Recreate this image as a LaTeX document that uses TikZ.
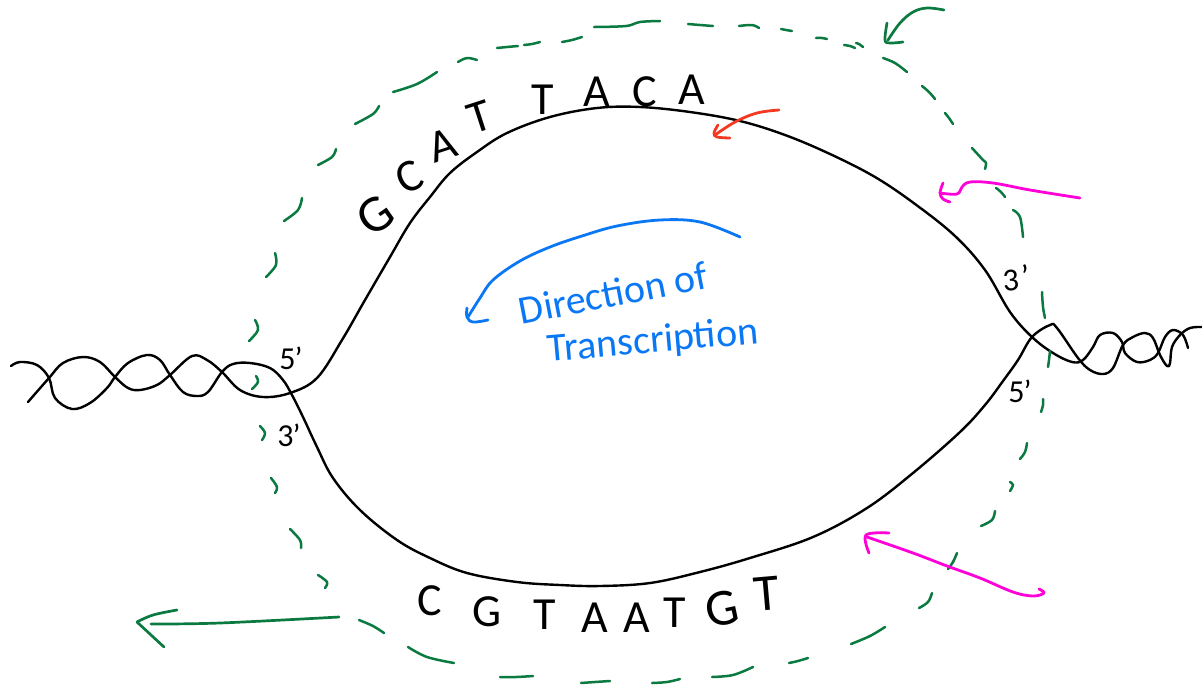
\documentclass[tikz,border=0pt]{standalone}
\usepackage{fontspec}
\setmainfont{Carlito}
\definecolor{dnagreen}{HTML}{0A7A40}
\definecolor{hotpink}{HTML}{FF00D8}
\definecolor{inkblue}{HTML}{0A78F5}
\definecolor{inkred}{HTML}{F23A22}
\tikzset{
  ink/.style={line width=2.4pt,line cap=round,line join=round},
  strand/.style={ink,black},
  bubble/.style={ink,dnagreen,line width=2.5pt},
  gpen/.style={ink,dnagreen,line width=2.7pt},
  ppen/.style={ink,hotpink,line width=2.8pt},
  bpen/.style={ink,inkblue,line width=2.8pt},
  rpen/.style={ink,inkred,line width=2.8pt},
  base/.style={inner sep=0pt,font=\fontsize{46}{46}\selectfont,text=black},
  bigbase/.style={inner sep=0pt,font=\fontsize{52}{52}\selectfont,text=black},
  endlabel/.style={inner sep=0pt,font=\fontsize{32}{32}\selectfont,text=black},
  note/.style={inner sep=0pt,font=\fontsize{40}{40}\selectfont,text=inkblue}
}
\newcommand{\sm}[2][]{\draw[#1] plot[smooth,tension=0.6] coordinates {#2};}
\newcommand{\gd}[1]{\draw[bubble] plot[smooth,tension=0.6] coordinates {#1};}
\begin{document}
\begin{tikzpicture}[x=1pt,y=-1pt]
\useasboundingbox (0,0) rectangle (1202,689);
% strands
\sm[strand]{(11,366)(20,362)(37,365)(49,378)(55,398)(72,409)(90,403)(107,388)(115,377)(128,363)(147,355)(160,360)(170,375)(183,392)(197,396)(208,392)(222,372)(233,364)(250,363)(270,368)(283,380)(292,395)(303,417)(317,447)(333,478)(360,510)(397,540)(430,558)(467,573)(517,582)(560,585)(600,586)(650,583)(700,572)(750,558)(813,537)(867,508)(913,473)(960,432)(985,405)(1003,381)(1018,360)(1032,337)(1050,325)(1057,328)(1078,358)(1090,370)(1103,374)(1113,368)(1123,345)(1133,337)(1145,333)(1153,338)(1160,355)(1167,366)(1170,363)(1172,347)(1180,335)(1190,328)(1202,327)}
\sm[strand]{(28,402)(49,378)(63,363)(83,357)(100,362)(115,377)(128,388)(140,390)(157,385)(170,375)(192,356)(207,360)(222,372)(240,390)(263,397)(290,393)(317,378)(342,340)(365,300)(390,257)(410,223)(430,197)(450,173)(477,152)(507,133)(550,117)(597,108)(640,107)(690,112)(740,121)(785,135)(830,154)(875,177)(915,204)(955,236)(985,270)(1010,312)(1032,337)(1053,353)(1072,362)(1083,360)(1093,347)(1100,335)(1113,333)(1122,342)(1125,353)(1137,362)(1150,360)(1158,353)(1165,337)(1173,330)(1183,335)(1188,348)}
% dashed green bubble, hand-drawn dash by dash
\gd{(255,320)(258,330)(249,341)}
\gd{(256,376)(258,382)(252,389)}
\gd{(260,426)(265,433)(262,440)}
\gd{(271,478)(277,487)(275,493)}
\gd{(290,529)(300,540)(301,548)}
\gd{(318,575)(327,582)(325,588)}
\gd{(359,620)(373,626)(384,633)}
\gd{(408,647)(427,657)(454,663)}
\gd{(500,677)(516,677)(533,676)}
\gd{(581,683)(595,682)(610,681)}
\gd{(652,683)(667,682)(680,679)}
\gd{(712,677)(733,675)(753,667)}
\gd{(789,663)(798,661)(808,658)}
\gd{(851,644)(870,636)(885,627)}
\gd{(919,608)(928,602)(932,593)}
\gd{(948,569)(953,562)(957,553)}
\gd{(981,526)(992,520)(995,511)}
\gd{(1010,491)(1013,485)(1010,482)}
\gd{(1020,459)(1025,452)(1027,443)}
\gd{(1041,412)(1043,405)(1043,399)}
\gd{(1048,367)(1049,360)(1050,351)}
\gd{(1045,318)(1043,307)(1042,292)}
\gd{(1023,237)(1020,217)(1013,210)}
\gd{(996,188)(1001,192)(1005,197)}
\gd{(972,148)(983,160)(986,163)(985,169)}
\gd{(945,113)(949,118)(953,124)}
\gd{(922,86)(929,92)(935,99)}
\gd{(883,58)(895,63)(907,72)}
\gd{(856,43)(859,44)(863,47)}
\gd{(844,45)(850,46)(855,48)}
\gd{(816,38)(822,38)(827,39)}
\gd{(781,29)(786,30)(792,31)}
\gd{(739,26)(752,25)(759,28)}
\gd{(688,24)(700,25)(713,26)}
\gd{(594,27)(626,26)(640,22)(660,21)}
\gd{(562,42)(572,40)(582,37)}
\gd{(524,45)(532,44)(540,42)}
\gd{(497,48)(507,47)(518,46)}
\gd{(458,62)(467,58)(477,60)}
\gd{(393,92)(417,84)(437,72)}
\gd{(355,124)(373,114)(379,106)}
\gd{(318,165)(332,157)(336,149)}
\gd{(284,221)(298,210)(302,198)}
\gd{(266,277)(276,265)(275,253)}
% green arrows
\sm[gpen]{(339,617)(220,623)(151,624)}
\sm[gpen]{(177,610)(153,615)(137,622)}
\draw[gpen] (137,622) -- (164,647);
\sm[gpen]{(944,10)(927,8)(913,12)(900,23)(888,40)}
\sm[gpen]{(887,23)(885,40)(890,43)(903,42)}
% magenta arrows
\sm[ppen]{(1080,198)(1030,190)(993,183)(970,182)(962,187)(957,194)(940,193)}
\sm[ppen]{(943,183)(940,193)(943,199)(950,202)}
\sm[ppen]{(1039,589)(1044,593)(1033,596)(1013,592)(980,578)(947,566)(913,553)(867,537)}
\sm[ppen]{(889,533)(866,535)(869,553)}
% red arrow
\sm[rpen]{(779,110)(757,113)(735,122)(715,135)}
\sm[rpen]{(718,125)(714,133)(717,137)(730,138)}
% blue arrow
\sm[bpen]{(740,237)(700,222)(660,220)(617,226)(582,236)(550,247)(520,261)(493,280)(480,298)(468,317)}
\sm[bpen]{(467,308)(467,317)(473,322)(488,320)}
% top bases
\node[bigbase,rotate=35] (t1) at (375,215) {G};
\node[base,rotate=25] (t2) at (409,177) {C};
\node[base,rotate=18] (t3) at (443,145) {A};
\node[base,rotate=18] (t4) at (480,117) {T};
\node[base] (t5) at (543,100) {T};
\node[base] (t6) at (597,92) {A};
\node[base] (t7) at (645,92) {C};
\node[base] (t8) at (692,90) {A};
% bottom bases
\node[base] (b1) at (430,601) {C};
\node[base] (b2) at (487,612) {G};
\node[base] (b3) at (545,615) {T};
\node[base] (b4) at (595,618) {A};
\node[base] (b5) at (637,618) {A};
\node[base] (b6) at (675,613) {T};
\node[bigbase,rotate=12] (b7) at (722,609) {G};
\node[bigbase,rotate=5] (b8) at (767,594) {T};
% end labels
\node[endlabel] (l5) at (291,358) {5\kern-1pt’};
\node[endlabel] (l3) at (289,435) {3\kern-1pt’};
\node[endlabel,rotate=5] (r3) at (1016,278) {3\kern3pt\raisebox{3pt}{’}};
\node[endlabel] (r5) at (1020,391) {5\kern-1pt’};
% note
\node[note,rotate=11] (n1) at (613,293) {Direction of};
\node[note,rotate=5] (n2) at (653,342) {Transcription};
\end{tikzpicture}
\end{document}
